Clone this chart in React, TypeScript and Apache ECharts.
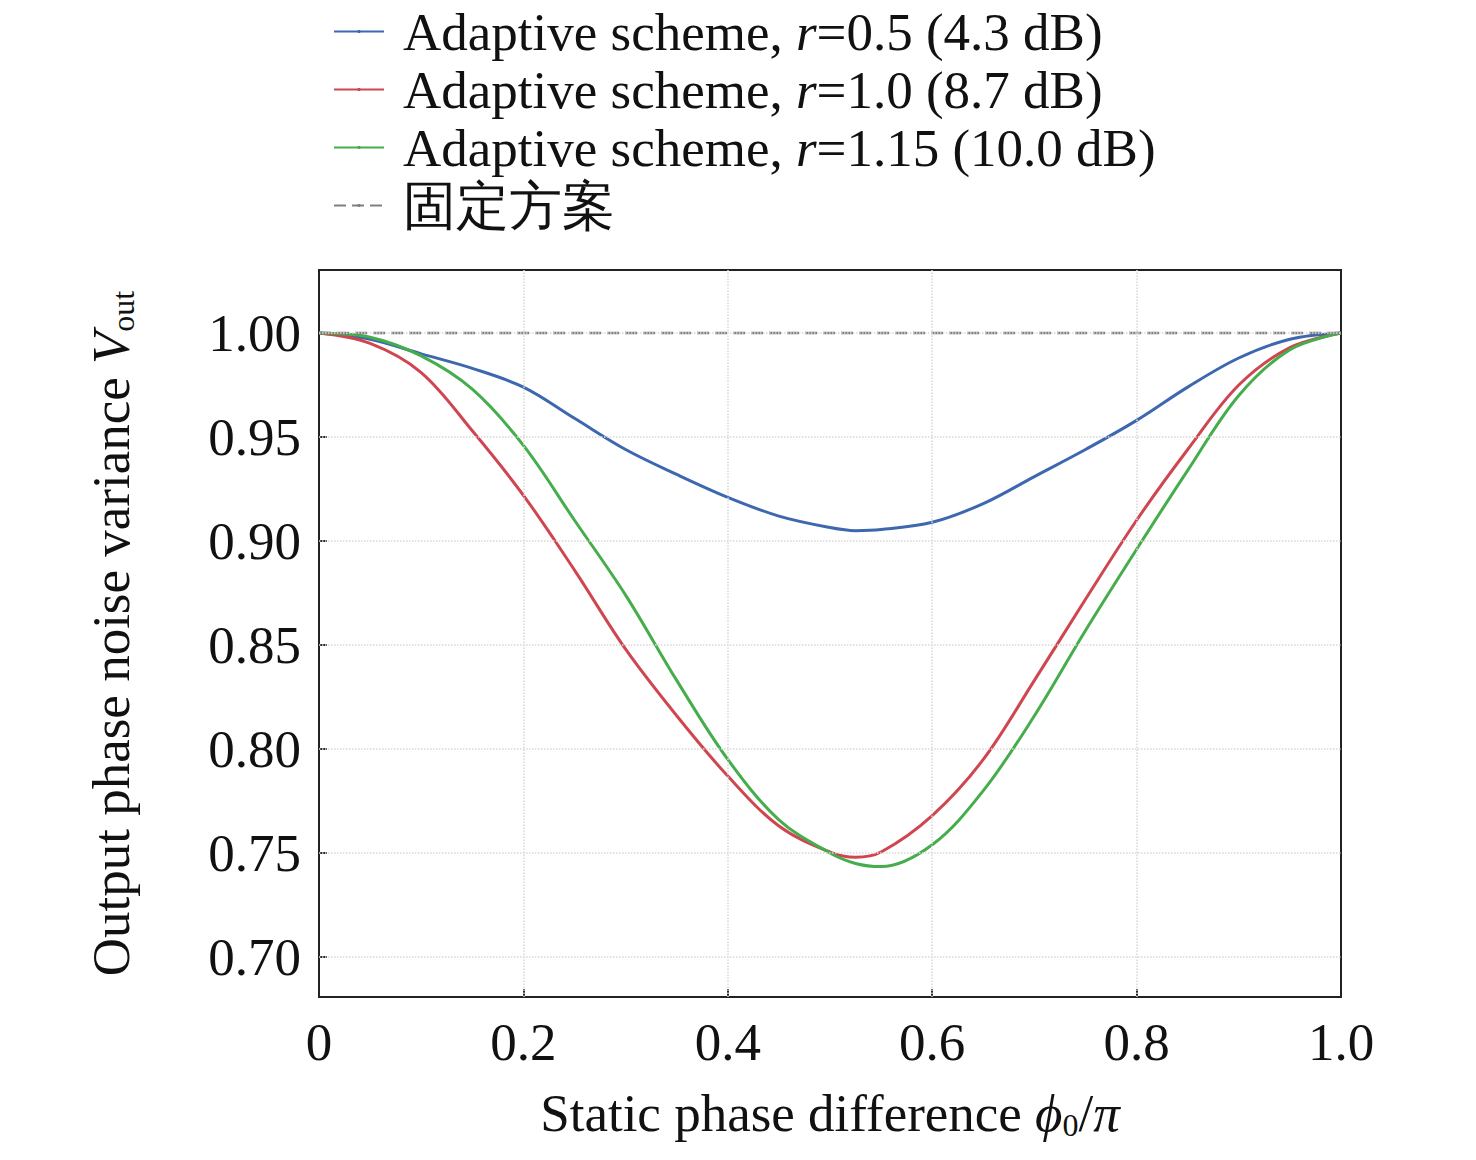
import { useEffect, useRef } from "react";
import * as echarts from "echarts";

const xs = [0, 0.05, 0.1, 0.15, 0.2, 0.25, 0.3, 0.35, 0.4, 0.45, 0.5, 0.525, 0.55, 0.6, 0.65, 0.7, 0.75, 0.8, 0.85, 0.9, 0.95, 1.0];
const blue = [1.0, 0.997, 0.99, 0.983, 0.974, 0.959, 0.944, 0.932, 0.921, 0.912, 0.9065, 0.905, 0.9055, 0.909, 0.918, 0.931, 0.944, 0.958, 0.974, 0.988, 0.997, 1.0];
const red = [1.0, 0.995, 0.981, 0.953, 0.922, 0.886, 0.848, 0.816, 0.787, 0.763, 0.7505, 0.748, 0.7505, 0.768, 0.795, 0.833, 0.872, 0.91, 0.944, 0.975, 0.993, 1.0];
const green = [1.0, 0.998, 0.989, 0.973, 0.946, 0.91, 0.874, 0.833, 0.795, 0.766, 0.75, 0.745, 0.7435, 0.754, 0.78, 0.816, 0.857, 0.896, 0.934, 0.97, 0.992, 1.0];
const yTicks = [0.7, 0.75, 0.8, 0.85, 0.9, 0.95, 1.0];
const xTicks = [0, 0.2, 0.4, 0.6, 0.8, 1.0];
const names = [
  "Adaptive scheme, {i|r}=0.5 (4.3 dB)",
  "Adaptive scheme, {i|r}=1.0 (8.7 dB)",
  "Adaptive scheme, {i|r}=1.15 (10.0 dB)",
  "固定方案",
];
const colors = ["#3d68b0", "#cf4650", "#45ad4c", "#808080"];

const FONT = "Liberation Serif, Times New Roman, serif";
const FS = 53;

export default function App() {
  const ref = useRef<HTMLDivElement>(null);
  useEffect(() => {
    document.body.style.margin = "0";
    if (!ref.current) return;
    const chart = echarts.init(ref.current, undefined, { renderer: "svg" });
    const pair = (ys: number[]) => xs.map((x, i) => [x, ys[i]]);
    const grid = {
      silent: true,
      symbol: "none",
      label: { show: false },
      lineStyle: { color: "#d8d8d8", type: "dotted", width: 1.5 },
      data: [
        ...yTicks.map((v) => ({ yAxis: v })),
        ...xTicks.slice(1, -1).map((v) => ({ xAxis: v })),
      ],
    };
    const line = (name: string, ys: number[], c: string, extra = {}) => ({
      name, type: "line", smooth: 0.35, symbol: "none", data: pair(ys),
      lineStyle: { color: c, width: 3 }, itemStyle: { color: c }, z: 3, ...extra,
    });
    chart.setOption({
      animation: false,
      textStyle: { fontFamily: FONT },
      legend: {
        orient: "vertical",
        left: 328,
        top: 0,
        itemWidth: 50,
        itemHeight: 4,
        itemGap: 5,
        data: names,
        textStyle: {
          fontSize: FS,
          color: "#111",
          fontFamily: FONT,
          padding: [0, 0, 0, 14],
          rich: { i: { fontStyle: "italic", fontSize: FS, fontFamily: FONT } },
        },
      },
      grid: {
        left: 319, right: 135, top: 270, bottom: 163,
        show: true, borderColor: "#222", borderWidth: 2,
      },
      xAxis: {
        type: "value", min: 0, max: 1, interval: 0.2,
        axisLine: { show: false },
        axisTick: { inside: true, length: 8, lineStyle: { color: "#222", width: 2 } },
        splitLine: { show: false },
        axisLabel: {
          fontSize: FS, color: "#111", margin: 18, fontFamily: FONT,
          formatter: (v: number) => (v === 0 ? "0" : v.toFixed(1)),
        },
        name: "Static phase difference {i|ϕ}{s|0}/{i|π}",
        nameLocation: "middle",
        nameGap: 88,
        nameTextStyle: {
          fontSize: FS, color: "#111", fontFamily: FONT,
          rich: {
            i: { fontStyle: "italic", fontSize: FS, fontFamily: FONT },
            s: { fontSize: 32, padding: [24, 0, 0, 0], fontFamily: FONT },
          },
        },
      },
      yAxis: {
        type: "value", min: 0.6808, max: 1.0303,
        axisLine: { show: false },
        axisTick: { inside: true, length: 8, customValues: yTicks, lineStyle: { color: "#222", width: 2 } },
        splitLine: { show: false },
        axisLabel: {
          fontSize: FS, color: "#111", margin: 18, fontFamily: FONT,
          customValues: yTicks,
          formatter: (v: number) => v.toFixed(2),
        },
        name: "Output phase noise variance {i|V}{s|out}",
        nameLocation: "middle",
        nameGap: 180,
        nameTextStyle: {
          fontSize: FS, color: "#111", fontFamily: FONT,
          rich: {
            i: { fontStyle: "italic", fontSize: FS, fontFamily: FONT },
            s: { fontSize: 32, padding: [24, 0, 0, 0], fontFamily: FONT },
          },
        },
      },
      series: [
        line(names[0], blue, colors[0], { markLine: grid }),
        line(names[1], red, colors[1]),
        line(names[2], green, colors[2]),
        { name: names[3], type: "line", symbol: "none", data: [[0, 1], [1, 1]], lineStyle: { color: colors[3], width: 2.5, type: [12, 6] }, itemStyle: { color: colors[3] }, z: 4 },
      ],
    });
    return () => chart.dispose();
  }, []);
  return <div ref={ref} style={{ width: 1476, height: 1160 }} />;
}
